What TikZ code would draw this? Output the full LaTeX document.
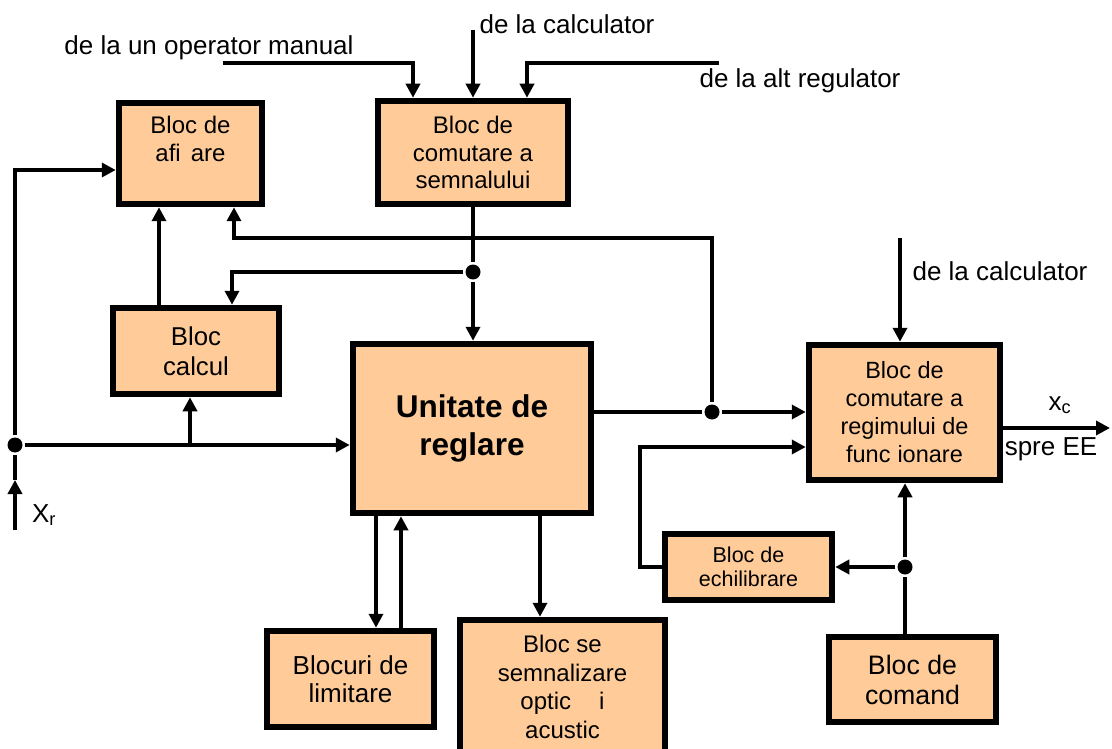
\documentclass[tikz,border=0pt]{standalone}
\usepackage{fontspec}
\setmainfont{Liberation Sans}
\usetikzlibrary{arrows.meta}
\definecolor{blocfill}{HTML}{FFCC99}

\begin{document}
\begin{tikzpicture}[x=1pt,y=-1pt,line width=4.5pt,%
  bloc/.style={draw=black,fill=blocfill,line width=6.5pt,align=center,%
  inner sep=0pt,font=\fontsize{24}{27.5}\selectfont},%
  flow/.style={-{Triangle[length=14pt,width=14pt]}},%
  junction/.style={circle,fill=black,inner sep=0pt,minimum size=15pt},%
  signame/.style={anchor=base,inner sep=0pt,font=\fontsize{26}{30}\selectfont}]

  \useasboundingbox (0,0) rectangle (1112,749);

  % blocks
  \node [bloc,minimum width=143pt,minimum height=101pt] (afis) at (190.5,153.5)
    {Bloc de\\afi\hspace{10pt}are\\[-6pt]\strut};
  \node [bloc,minimum width=190pt,minimum height=103pt] (comsem) at (473,152.5)
    {Bloc de\\comutare a\\semnalului};
  \node [bloc,minimum width=166pt,minimum height=86pt,%
    font=\fontsize{25.8}{30}\selectfont] (calcul) at (196,351) {Bloc\\calcul};
  \node [bloc,minimum width=238pt,minimum height=169pt,%
    font=\fontsize{31.5}{38}\selectfont\bfseries] (unit) at (472,428.5)
    {Unitate de\\reglare};
  \node [bloc,minimum width=191pt,minimum height=135pt,%
    font=\fontsize{23.5}{28}\selectfont] (regim) at (904.5,412.5)
    {Bloc de\\comutare a\\regimului de\\func\hspace{7pt}ionare};
  \node [bloc,minimum width=167pt,minimum height=66pt,%
    font=\fontsize{21.5}{24}\selectfont] (echil) at (748.5,567)
    {Bloc de\\echilibrare};
  \node [bloc,minimum width=167pt,minimum height=85pt,%
    font=\fontsize{26.7}{30}\selectfont] (comand) at (912.5,679.5)
    {Bloc de\\comand};
  \node [bloc,minimum width=167pt,minimum height=96pt,%
    font=\fontsize{26}{28}\selectfont] (limit) at (350.5,679)
    {Blocuri de\\limitare};
  \node [bloc,minimum width=205pt,minimum height=134pt,%
    font=\fontsize{24}{28.5}\selectfont] (semn) at (562.5,687)
    {Bloc se\\semnalizare\\optic\hspace{28pt}i\\acustic};

  % junctions and free ends
  \node [junction] (j1) at (473,272) {};
  \node [junction] (j2) at (15,445) {};
  \node [junction] (j3) at (712,412) {};
  \node [junction] (j4) at (905,567) {};
  \coordinate (opin) at (223,63);
  \coordinate (calcin) at (473,30);
  \coordinate (altin) at (719,63);
  \coordinate (calcin2) at (900,238);
  \coordinate (xr) at (15,530);
  \coordinate (xrtip) at (15,480);
  \coordinate (br) at (190,445);
  \coordinate (xcout) at (1110,428);

  % signals
  \node [signame] (lop) at (209,55) {de la un operator manual};
  \node [signame] (lcalc) at (567,34) {de la calculator};
  \node [signame] (lalt) at (800,88) {de la alt regulator};
  \node [signame] (lcalc2) at (1000,280) {de la calculator};
  \node [signame] (lxc) at (1060,410) {x\textsubscript{c}};
  \node [signame] (lspre) at (1051,455) {spre EE};
  \node [signame] (lxr) at (44,522) {X\textsubscript{r}};

  % connectors
  \draw [flow] (opin) -| ([xshift=-60pt]comsem.north);
  \draw [flow] (calcin) -- (calcin |- comsem.north);
  \draw [flow] (altin) -| ([xshift=54pt]comsem.north);
  \draw (comsem) -- (j1);
  \draw [flow] (j1) -- (j1 |- unit.north);
  \draw [flow] (j1) -| ([xshift=36pt]calcul.north);
  \draw [flow] (159,0 |- calcul.north) -- (159,0 |- afis.south);
  \draw [flow] (xr) -- (xrtip);
  \draw (xrtip) -- (j2);
  \draw [flow] (j2) |- (afis.west |- 0,170);
  \draw [flow] (j2) -- (j2 -| unit.west);
  \draw [flow] (br) -- (br |- calcul.south);
  \draw (unit.east |- j3) -- (j3);
  \draw [flow] (j3) -- (j3 -| regim.west);
  \draw [flow] (j3) |- (234,238) -- (234,0 |- afis.south);
  \draw [flow] (echil.west) -| (640,447) -- (640,447 -| regim.west);
  \draw (j4 |- comand.north) -- (j4);
  \draw [flow] (j4) -- (j4 |- regim.south);
  \draw [flow] (j4) -- (echil.east);
  \draw [flow] (calcin2) -- (calcin2 |- regim.north);
  \draw [flow] (regim.east |- xcout) -- (xcout);
  \draw [flow] (376,0 |- unit.south) -- (376,0 |- limit.north);
  \draw [flow] (401,0 |- limit.north) -- (401,0 |- unit.south);
  \draw [flow] (540,0 |- unit.south) -- (540,0 |- semn.north);
\end{tikzpicture}
\end{document}
